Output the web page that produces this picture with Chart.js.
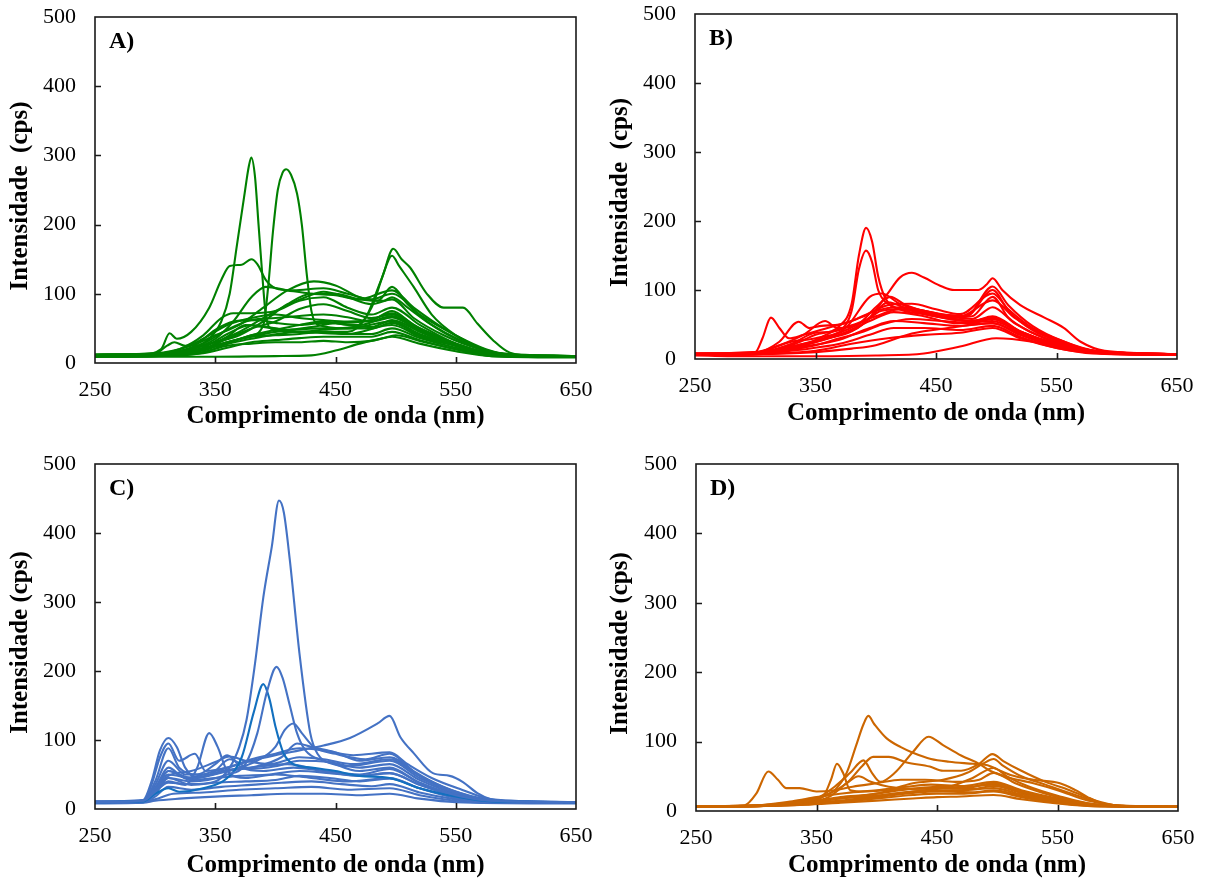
<!DOCTYPE html>
<html>
<head>
<meta charset="utf-8">
<script src="https://cdn.jsdelivr.net/npm/chart.js@4"></script>
<style>
  html, body { margin: 0; padding: 0; background: #fff; }
  #wrap { position: relative; width: 1207px; height: 881px; }
  .panel { position: absolute; }
</style>
</head>
<body>
<div id="wrap">
  <div class="panel" style="left:0;top:0"><canvas id="chartA" width="600" height="440"></canvas></div>
  <div class="panel" style="left:600px;top:0"><canvas id="chartB" width="600" height="440"></canvas></div>
  <div class="panel" style="left:0;top:440px"><canvas id="chartC" width="600" height="441"></canvas></div>
  <div class="panel" style="left:600px;top:440px"><canvas id="chartD" width="600" height="441"></canvas></div>
</div>
<script>
// Emission spectra, one [wavelength nm, intensity cps] list per sample
const spectraA = [
  [[250,11],[290,12],[310,14],[330,22],[345,35],[355,60],[362,100],[368,170],[374,240],[378,285],[380,297],[383,270],[386,200],[389,130],[392,70],[396,50],[420,45],[460,42],[497,55],[520,38],[550,25],[580,14],[600,10],[650,10]],
  [[250,12],[300,13],[330,18],[360,30],[380,40],[390,55],[394,110],[398,190],[402,250],[406,275],[409,280],[413,272],[418,245],[422,200],[426,130],[430,75],[436,55],[460,50],[497,60],[520,42],[550,25],[580,14],[600,10],[650,10]],
  [[250,12],[290,13],[305,20],[312,43],[318,35],[330,45],[345,80],[355,120],[362,140],[372,142],[380,150],[385,143],[392,120],[400,108],[415,105],[440,108],[460,100],[480,92],[497,100],[520,70],[550,40],[575,20],[600,11],[650,10]],
  [[250,11],[300,12],[330,16],[360,30],[400,45],[440,50],[465,52],[480,80],[490,130],[498,165],[505,150],[512,138],[526,100],[540,80],[556,80],[568,57],[581,33],[595,15],[620,10],[650,10]],
  [[250,10],[300,11],[340,20],[380,35],[420,45],[460,45],[475,65],[488,120],[497,155],[503,140],[515,110],[530,70],[550,40],[570,22],[590,12],[650,10]],
  [[250,12],[300,14],[330,25],[350,40],[370,55],[390,80],[410,105],[432,118],[450,112],[470,95],[485,90],[497,110],[510,85],[530,55],[550,35],[575,18],[600,11],[650,10]],
  [[250,10],[300,12],[340,25],[370,45],[400,75],[425,95],[440,103],[460,95],[480,85],[497,92],[515,65],[540,40],[570,20],[600,11],[650,10]],
  [[250,11],[300,13],[320,20],[340,40],[355,65],[365,72],[380,72],[400,75],[420,90],[440,95],[460,80],[480,70],[497,80],[520,55],[545,32],[570,17],[600,10],[650,10]],
  [[250,12],[300,14],[310,25],[316,30],[325,25],[340,35],[360,55],[380,65],[400,70],[420,65],[440,62],[460,60],[480,62],[497,75],[515,55],[540,35],[565,18],[600,11],[650,10]],
  [[250,10],[300,11],[340,20],[360,35],[380,50],[400,60],[420,78],[440,85],[460,75],[480,65],[497,70],[520,48],[545,30],[570,16],[600,10],[650,10]],
  [[250,9],[300,10],[340,15],[360,28],[380,40],[400,48],[420,55],[440,60],[460,55],[480,52],[497,62],[520,45],[545,28],[570,15],[600,9],[650,9]],
  [[250,11],[300,12],[340,22],[360,42],[380,55],[400,50],[420,45],[440,48],[460,50],[480,50],[497,58],[520,40],[550,25],[580,13],[650,10]],
  [[250,10],[300,11],[340,18],[360,30],[380,38],[400,40],[420,42],[440,45],[460,42],[480,42],[497,50],[520,36],[550,22],[580,12],[650,9]],
  [[250,9],[300,10],[340,14],[360,22],[380,30],[400,33],[420,36],[440,38],[460,38],[480,38],[497,45],[520,33],[550,20],[580,11],[650,9]],
  [[250,10],[300,11],[340,16],[360,25],[380,28],[400,30],[420,30],[440,32],[460,30],[480,32],[497,38],[520,28],[550,17],[580,10],[650,9]],
  [[250,9],[300,9],[350,9],[400,10],[430,11],[450,18],[470,28],[490,36],[500,40],[520,32],[550,20],[580,10],[650,8]],
  [[250,12],[300,13],[330,22],[350,48],[365,60],[385,62],[400,58],[420,55],[440,58],[470,55],[497,68],[520,48],[550,28],[580,14],[650,10]],
  [[250,11],[300,12],[340,20],[360,38],[375,55],[390,52],[410,48],[430,52],[450,58],[475,60],[497,72],[520,50],[550,28],[580,13],[650,10]],
  [[250,11],[300,13],[330,20],[350,30],[370,40],[390,60],[410,85],[430,100],[450,100],[470,92],[490,90],[497,95],[510,80],[530,55],[555,32],[580,16],[650,10]],
  [[250,10],[300,12],[320,16],[340,28],[360,48],[380,62],[400,65],[420,68],[440,70],[460,66],[480,60],[497,66],[520,46],[550,26],[580,13],[650,10]],
  [[250,11],[300,12],[330,20],[350,35],[365,60],[380,95],[392,110],[410,105],[430,100],[450,98],[470,92],[497,105],[515,80],[540,50],[570,22],[600,11],[650,10]]
];

const spectraB = [
  [[250,7],[300,8],[330,20],[350,35],[370,48],[380,80],[386,150],[392,190],[397,170],[402,120],[408,88],[420,72],[440,65],[460,60],[480,62],[497,90],[510,60],[530,38],[555,22],[580,12],[600,8],[650,7]],
  [[250,8],[300,9],[330,22],[350,38],[370,42],[380,70],[386,130],[392,157],[397,140],[402,100],[410,80],[430,70],[450,65],[475,62],[497,100],[510,70],[530,42],[555,24],[580,12],[650,7]],
  [[250,7],[300,8],[330,18],[360,30],[380,40],[395,60],[410,95],[420,118],[430,125],[440,118],[455,105],[465,100],[485,100],[492,108],[497,117],[505,100],[520,78],[540,60],[556,45],[570,25],[590,12],[650,7]],
  [[250,8],[300,10],[306,30],[313,60],[320,45],[328,30],[340,35],[360,45],[380,55],[400,70],[420,75],[440,70],[460,60],[480,55],[497,60],[520,40],[550,22],[580,11],[650,7]],
  [[250,7],[300,9],[320,25],[336,54],[345,45],[355,48],[370,50],[390,62],[410,78],[430,80],[450,72],[470,65],[497,95],[510,72],[530,45],[555,26],[580,12],[650,7]],
  [[250,8],[300,10],[320,20],[340,35],[358,55],[368,45],[385,50],[400,75],[412,90],[425,78],[450,65],[475,62],[497,105],[510,78],[530,48],[555,26],[585,11],[650,7]],
  [[250,7],[300,9],[330,25],[350,30],[375,45],[395,90],[405,95],[420,80],[445,68],[470,62],[497,85],[515,60],[540,35],[570,16],[600,8],[650,7]],
  [[250,6],[300,8],[330,15],[360,30],[385,45],[405,70],[425,72],[450,62],[475,55],[497,58],[520,38],[550,22],[580,10],[650,6]],
  [[250,7],[300,8],[340,20],[370,35],[395,55],[415,68],[440,62],[465,52],[497,55],[520,38],[550,20],[580,10],[650,7]],
  [[250,7],[300,8],[340,18],[370,28],[395,45],[415,55],[440,52],[470,48],[497,52],[520,35],[550,18],[580,10],[650,7]],
  [[250,8],[300,9],[340,22],[370,38],[395,60],[410,82],[430,70],[455,60],[480,55],[497,62],[520,40],[550,22],[585,10],[650,7]],
  [[250,6],[300,7],[340,14],[370,22],[395,35],[415,45],[440,45],[470,42],[497,48],[520,32],[550,16],[580,9],[650,6]],
  [[250,5],[300,4],[350,4],[400,5],[440,8],[470,18],[500,30],[530,25],[560,14],[600,7],[650,6]],
  [[250,6],[300,7],[350,10],[380,15],[400,20],[430,37],[460,45],[497,52],[520,35],[550,18],[580,9],[650,6]],
  [[250,7],[300,8],[340,20],[365,40],[385,52],[400,62],[420,72],[440,70],[460,62],[480,58],[497,75],[515,52],[540,30],[570,14],[650,7]],
  [[250,6],[300,7],[345,18],[370,30],[390,40],[405,50],[430,58],[455,55],[480,52],[497,58],[520,40],[550,20],[580,10],[650,6]],
  [[250,6],[300,7],[350,12],[380,22],[410,30],[440,35],[470,38],[497,45],[520,30],[550,16],[580,8],[650,6]]
];

const spectraC = [
  [[250,10],[290,12],[300,25],[311,38],[330,36],[350,40],[362,60],[370,90],[376,129],[383,210],[390,307],[397,380],[403,447],[407,430],[412,361],[420,226],[429,110],[435,80],[450,65],[470,55],[495,60],[520,38],[550,20],[580,12],[650,10]],
  [[250,10],[290,12],[300,28],[311,45],[330,40],[360,50],[375,65],[385,110],[393,170],[401,206],[406,190],[412,150],[418,110],[425,85],[440,70],[460,62],[495,70],[520,45],[550,24],[580,12],[650,10]],
  [[250,10],[290,11],[300,22],[311,30],[320,25],[340,30],[360,45],[372,75],[382,140],[390,181],[395,160],[400,120],[407,80],[415,65],[430,60],[450,55],[470,48],[495,45],[520,30],[550,18],[580,11],[650,10]],
  [[250,11],[290,12],[300,30],[311,50],[330,45],[360,55],[385,70],[400,90],[408,115],[415,124],[422,110],[432,90],[450,80],[475,72],[495,80],[515,55],[540,32],[570,16],[600,11],[650,10]],
  [[250,10],[290,12],[300,25],[311,40],[325,35],[335,60],[345,110],[352,90],[360,55],[375,45],[400,50],[430,45],[460,40],[495,45],[520,30],[550,18],[580,11],[650,10]],
  [[250,11],[290,13],[297,40],[304,85],[311,103],[318,90],[325,60],[335,45],[355,55],[380,60],[410,65],[440,55],[470,48],[495,52],[520,35],[550,20],[580,12],[650,10]],
  [[250,10],[290,12],[297,35],[304,75],[311,95],[320,70],[333,80],[342,55],[360,60],[380,72],[400,80],[420,88],[440,85],[465,78],[495,82],[510,65],[530,45],[555,28],[580,14],[650,10]],
  [[250,10],[290,12],[300,30],[311,60],[325,45],[350,55],[380,70],[400,78],[420,85],[440,92],[462,103],[485,124],[495,135],[504,104],[515,81],[531,52],[545,48],[556,39],[568,23],[578,15],[600,11],[650,10]],
  [[250,10],[290,12],[300,40],[311,88],[320,60],[335,50],[350,65],[360,78],[372,60],[390,55],[415,60],[440,55],[470,50],[495,58],[520,38],[550,20],[580,11],[650,10]],
  [[250,10],[290,11],[300,35],[311,70],[325,50],[345,50],[362,72],[380,58],[400,62],[420,70],[445,68],[470,60],[495,65],[520,42],[550,22],[580,11],[650,10]],
  [[250,9],[290,10],[300,25],[311,55],[330,42],[350,45],[370,48],[395,50],[420,55],[445,52],[470,48],[495,52],[520,35],[550,18],[580,10],[650,9]],
  [[250,9],[290,10],[300,22],[311,45],[330,35],[350,38],[375,40],[400,42],[420,48],[445,45],[470,40],[495,44],[520,30],[550,16],[580,10],[650,9]],
  [[250,10],[290,10],[300,18],[311,32],[330,28],[355,32],[380,35],[405,38],[430,40],[455,36],[480,33],[495,36],[520,24],[550,14],[580,9],[650,9]],
  [[250,9],[290,10],[300,14],[315,22],[340,24],[370,28],[400,30],[430,32],[460,28],[495,30],[520,20],[550,12],[580,9],[650,9]],
  [[250,8],[290,9],[300,12],[320,15],[350,18],[380,20],[410,22],[440,22],[470,20],[495,22],[520,15],[550,10],[650,8]],
  [[250,10],[290,11],[300,28],[311,48],[330,55],[350,68],[362,76],[375,70],[395,65],[420,75],[440,72],[465,65],[495,72],[520,48],[550,25],[580,12],[650,10]],
  [[250,10],[290,12],[300,30],[311,55],[330,45],[360,55],[385,62],[405,75],[418,95],[430,90],[450,82],[470,70],[495,75],[520,48],[550,24],[580,12],[650,10]]
];

const spectraD = [
  [[250,7],[300,8],[330,12],[350,18],[365,30],[375,55],[383,95],[389,125],[393,137],[398,125],[408,105],[420,92],[430,84],[445,75],[460,71],[480,68],[492,66],[500,60],[511,52],[530,45],[552,40],[565,30],[575,20],[591,9],[620,6],[650,6]],
  [[250,6],[300,7],[330,10],[350,18],[365,35],[378,55],[389,73],[396,55],[403,42],[415,55],[430,85],[443,107],[455,95],[470,80],[485,68],[494,58],[510,48],[530,40],[550,30],[575,15],[600,8],[650,6]],
  [[250,7],[290,8],[300,25],[310,57],[318,45],[325,33],[336,33],[350,28],[365,30],[380,35],[400,40],[420,45],[440,45],[465,42],[485,45],[497,55],[515,40],[540,25],[565,14],[590,8],[650,6]],
  [[250,7],[300,8],[340,15],[360,25],[375,40],[388,65],[397,78],[410,78],[425,70],[444,64],[455,58],[470,58],[485,68],[496,82],[505,72],[520,58],[540,42],[560,30],[580,16],[600,8],[650,6]],
  [[250,7],[300,8],[340,14],[355,20],[362,45],[367,68],[372,55],[378,30],[390,28],[410,30],[430,32],[450,33],[470,32],[497,40],[520,28],[550,17],[580,9],[650,6]],
  [[250,7],[300,8],[340,12],[370,20],[400,25],[430,40],[455,45],[475,55],[488,68],[497,75],[505,65],[520,50],[540,38],[560,26],[585,12],[610,7],[650,6]],
  [[250,6],[300,7],[340,11],[370,18],[400,22],[430,28],[460,35],[480,48],[497,62],[508,50],[525,36],[550,22],[580,10],[650,6]],
  [[250,7],[300,8],[340,12],[370,18],[400,25],[430,32],[450,35],[470,34],[497,38],[520,27],[550,16],[580,9],[650,6]],
  [[250,7],[300,7],[340,10],[370,15],[400,22],[430,28],[450,30],[470,30],[497,33],[520,24],[550,14],[580,8],[650,6]],
  [[250,6],[300,7],[340,9],[370,13],[400,18],[430,23],[450,25],[470,25],[497,28],[520,20],[550,12],[580,7],[650,6]],
  [[250,6],[300,7],[340,9],[370,12],[400,15],[430,18],[450,20],[470,21],[497,23],[520,17],[550,11],[580,7],[650,6]],
  [[250,7],[300,8],[330,14],[350,20],[375,26],[400,30],[425,35],[445,38],[470,36],[497,42],[520,30],[550,18],[580,9],[650,6]],
  [[250,6],[300,7],[340,10],[370,14],[400,20],[430,26],[455,28],[480,27],[497,30],[520,22],[550,13],[580,8],[650,6]],
  [[250,7],[300,8],[340,12],[360,20],[375,40],[385,50],[395,42],[410,35],[430,32],[455,34],[480,32],[497,36],[520,26],[550,15],[580,8],[650,6]]
];

const xTicks = [250, 350, 450, 550, 650];
const yTicks = [0, 100, 200, 300, 400, 500];
const xTitle = 'Comprimento de onda (nm)';

const SERIF = '"Liberation Serif", "Times New Roman", serif';

// frame around the plot area, inward tick marks, panel letter and the rotated y title
const framePlugin = {
  id: 'frame',
  afterDatasetsDraw(chart, args, opts) {
    const { ctx, chartArea: a, scales: { x, y } } = chart;
    ctx.save();
    ctx.strokeStyle = '#1a1a1a';
    ctx.lineWidth = 1.6;
    ctx.strokeRect(a.left, a.top, a.right - a.left, a.bottom - a.top);
    ctx.beginPath();
    xTicks.slice(1, -1).forEach(v => {
      const px = Math.round(x.getPixelForValue(v)) + 0.5;
      ctx.moveTo(px, a.bottom);
      ctx.lineTo(px, a.bottom - 6);
    });
    yTicks.slice(1, -1).forEach(v => {
      const py = Math.round(y.getPixelForValue(v)) + 0.5;
      ctx.moveTo(a.left, py);
      ctx.lineTo(a.left + 6, py);
    });
    ctx.stroke();

    ctx.fillStyle = '#000';
    ctx.font = 'bold 24px ' + SERIF;
    ctx.textBaseline = 'alphabetic';
    ctx.fillText(opts.label, a.left + 14, a.top + 31);

    ctx.translate(opts.titleX, (a.top + a.bottom) / 2 + 6);
    ctx.rotate(-Math.PI / 2);
    ctx.font = 'bold 25px ' + SERIF;
    ctx.textAlign = 'center';
    ctx.textBaseline = 'middle';
    ctx.fillText(opts.yTitle, 0, 0);
    ctx.restore();
  }
};

function makePanel(id, spectra, color, label, yTitle, box) {
  const ctx = document.getElementById(id).getContext('2d');
  return new Chart(ctx, {
    type: 'line',
    data: {
      datasets: spectra.map((s, i) => ({
        data: s.map(p => ({ x: p[0], y: p[1] })),
        borderColor: box.accent && i === box.accent.index ? box.accent.color : color,
        borderWidth: 2.1,
        pointRadius: 0,
        fill: false,
        cubicInterpolationMode: 'monotone'
      }))
    },
    options: {
      responsive: false,
      animation: false,
      events: [],
      layout: { padding: { top: box.top, right: box.right, left: 0, bottom: 0 } },
      plugins: {
        legend: { display: false },
        tooltip: { enabled: false },
        frame: { label: label, yTitle: yTitle, titleX: 21 }
      },
      scales: {
        x: {
          type: 'linear',
          min: 250,
          max: 650,
          afterFit: s => { s.height = box.xh; s.paddingLeft = 0; s.paddingRight = 0; },
          afterBuildTicks: s => { s.ticks = xTicks.map(v => ({ value: v })); },
          grid: { display: false, drawTicks: false },
          border: { display: false },
          ticks: { color: '#000', font: { family: SERIF, size: 22 }, padding: 14, maxRotation: 0 },
          title: { display: true, text: xTitle, color: '#000', font: { family: SERIF, size: 25, weight: 'bold' }, padding: { top: 0, bottom: box.xtp } }
        },
        y: {
          min: 0,
          max: 500,
          afterFit: s => { s.width = box.yw; s.paddingTop = 0; s.paddingBottom = 0; },
          afterBuildTicks: s => { s.ticks = yTicks.map(v => ({ value: v })); },
          grid: { display: false, drawTicks: false },
          border: { display: false },
          ticks: { color: '#000', font: { family: SERIF, size: 22 }, padding: 19 }
        }
      }
    },
    plugins: [framePlugin]
  });
}

makePanel('chartA', spectraA, '#008000', 'A)', 'Intensidade  (cps)', { top: 17, right: 24, xh: 77, yw: 95, xtp: 8 });
makePanel('chartB', spectraB, '#FF0000', 'B)', 'Intensidade  (cps)', { top: 14, right: 23, xh: 81, yw: 95, xtp: 11 });
makePanel('chartC', spectraC, '#4472C4', 'C)', 'Intensidade (cps)', { top: 24, right: 24, xh: 72, yw: 95, xtp: 0, accent: { index: 2, color: '#1270BF' } });
makePanel('chartD', spectraD, '#CC6600', 'D)', 'Intensidade (cps)', { top: 24, right: 22, xh: 70, yw: 96, xtp: 0 });
</script>
</body>
</html>
